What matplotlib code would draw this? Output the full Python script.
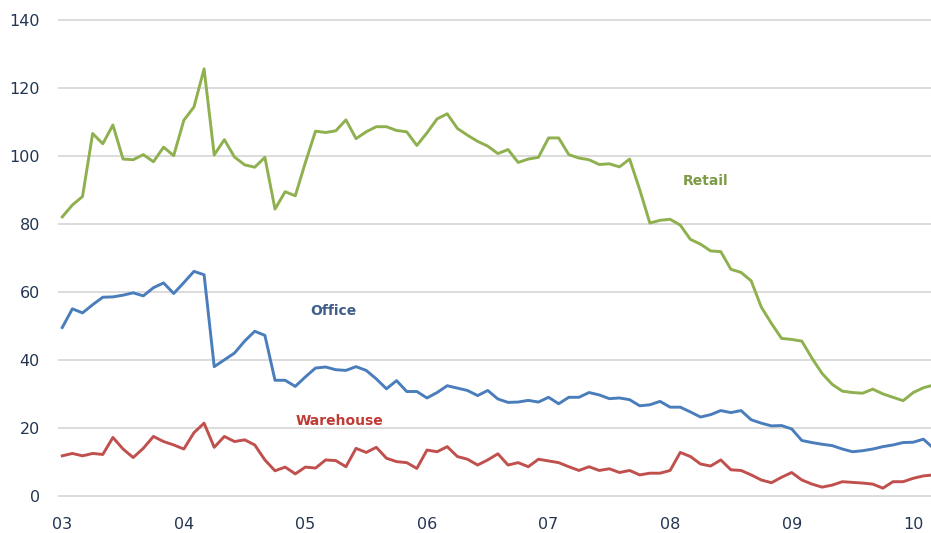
import matplotlib
matplotlib.use("Agg")
import matplotlib.pyplot as plt
import numpy as np

# Monthly values, Jan 2003 .. Mar 2010
retail = [82, 85.5, 88, 106.5, 103.5, 109, 99, 98.8, 100.3, 98.2, 102.5, 100,
          110.4, 114.3, 125.5, 100.2, 104.7, 99.6, 97.3, 96.6, 99.5, 84.3, 89.4, 88.2,
          98, 107.2, 106.8, 107.3, 110.5, 105, 107, 108.5, 108.5, 107.4, 107, 103,
          106.7, 110.8, 112.3, 108, 106, 104.2, 102.8, 100.6, 101.8, 98, 99, 99.5,
          105.2, 105.2, 100.3, 99.3, 98.8, 97.4, 97.6, 96.7, 99, 90, 80.2, 81,
          81.3, 79.6, 75.4, 74, 72, 71.8, 66.6, 65.7, 63.2, 55.5, 50.7, 46.3,
          46, 45.5, 40.5, 36, 32.8, 30.8, 30.4, 30.2, 31.4, 30, 29, 28,
          30.4, 31.8, 32.6]
office = [49.5, 55, 53.8, 56.2, 58.4, 58.5, 59, 59.7, 58.8, 61.2, 62.6, 59.5,
          62.7, 66, 65, 38, 40, 42, 45.5, 48.4, 47.2, 34, 34, 32.2,
          35, 37.6, 37.9, 37.1, 36.9, 38, 36.9, 34.4, 31.5, 33.9, 30.7, 30.7,
          28.8, 30.4, 32.4, 31.7, 31, 29.5, 31, 28.5, 27.5, 27.6, 28.1, 27.6,
          29, 27.1, 29, 29, 30.4, 29.7, 28.6, 28.8, 28.3, 26.5, 26.8, 27.8,
          26.1, 26.1, 24.7, 23.2, 23.9, 25.1, 24.5, 25.1, 22.4, 21.4, 20.6, 20.7,
          19.7, 16.3, 15.7, 15.2, 14.8, 13.8, 13, 13.3, 13.8, 14.5, 15, 15.7,
          15.8, 16.7, 14]
warehouse = [11.8, 12.5, 11.8, 12.5, 12.2, 17.2, 13.8, 11.3, 14, 17.5, 16, 15,
             13.8, 18.6, 21.4, 14.3, 17.5, 16, 16.5, 15, 10.6, 7.4, 8.5, 6.5,
             8.5, 8.2, 10.6, 10.4, 8.6, 14, 12.8, 14.3, 11.1, 10.1, 9.8, 8.1,
             13.5, 13, 14.5, 11.6, 10.8, 9.1, 10.6, 12.4, 9.1, 9.8, 8.6, 10.8,
             10.3, 9.8, 8.6, 7.5, 8.6, 7.5, 8, 6.9, 7.5, 6.2, 6.7, 6.7,
             7.5, 12.8, 11.6, 9.4, 8.8, 10.6, 7.7, 7.5, 6.2, 4.7, 3.9, 5.5,
             6.9, 4.7, 3.5, 2.6, 3.2, 4.2, 4, 3.8, 3.5, 2.3, 4.2, 4.2,
             5.2, 5.9, 6.2]
year_labels = ["03", "04", "05", "06", "07", "08", "09", "10"]
y_ticks = [0, 20, 40, 60, 80, 100, 120, 140]

C_RETAIL = "#8fb04e"
C_OFFICE = "#4a7dbb"
C_WARE = "#c0504d"
C_TICK = "#243552"

W, H = 931, 533
fig = plt.figure(figsize=(W / 100, H / 100), dpi=100)
left = 58 / W
bottom = (H - 502.8) / H
top = (H - 12.7) / H
ax = fig.add_axes([left, bottom, 1 - left, top - bottom])

x = np.arange(len(retail))
ax.plot(x, retail, color=C_RETAIL, lw=2.1, solid_joinstyle="round", zorder=3)
ax.plot(x, office, color=C_OFFICE, lw=2.1, solid_joinstyle="round", zorder=3)
ax.plot(x, warehouse, color=C_WARE, lw=2.1, solid_joinstyle="round", zorder=3)

ax.set_xlim(-0.42, 85.75)
ax.set_ylim(-2, 142)
ax.set_yticks(y_ticks)
ax.set_xticks(np.arange(len(year_labels)) * 12)
ax.set_xticklabels(year_labels)
ax.grid(axis="y", color="#d9d9d9", lw=1.3)
ax.grid(axis="x", visible=False)
ax.set_axisbelow(True)
for s in ax.spines.values():
    s.set_visible(False)
ax.tick_params(axis="y", length=0, pad=13, labelsize=11.5, labelcolor=C_TICK)
ax.tick_params(axis="x", length=0, pad=10, labelsize=11.5, labelcolor=C_TICK)

ax.text(63.5, 92.5, "Retail", color="#7d9a45", fontsize=10, fontweight="semibold",
        ha="center", va="center")
ax.text(26.8, 54.3, "Office", color="#3f5f8a", fontsize=10, fontweight="semibold",
        ha="center", va="center")
ax.text(27.4, 22.0, "Warehouse", color="#c03a34", fontsize=10, fontweight="semibold",
        ha="center", va="center")

fig.savefig("out.png", dpi=100)
